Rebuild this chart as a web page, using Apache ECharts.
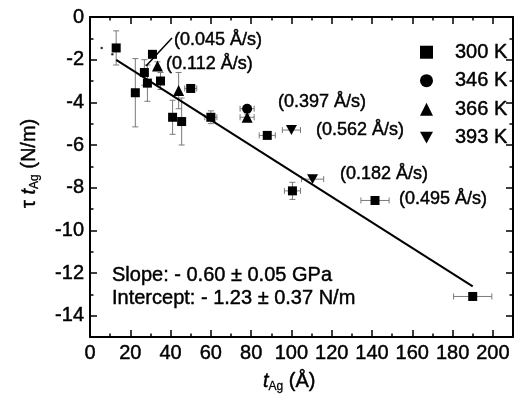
<!DOCTYPE html>
<html><head><meta charset="utf-8">
<script src="https://cdn.jsdelivr.net/npm/echarts@6/dist/echarts.min.js"></script>
<style>html,body{margin:0;padding:0;background:#fff}#c{width:516px;height:401px}</style>
</head><body><div id="c"></div>
<script>
// tick labels / tick positions
const xLabels = [0, 20, 40, 60, 80, 100, 120, 140, 160, 180, 200];
const xMinorTicks = [10, 30, 50, 70, 90, 110, 130, 150, 170, 190];
const yLabels = [0, -2, -4, -6, -8, -10, -12, -14];
const yMinorTicks = [-1, -3, -5, -7, -9, -11, -13];

// series values: [t_Ag (Å), tau*t_Ag (N/m), x error, y error]
const s300 = [
  [13, -1.45, 0, 0.8],
  [22.5, -3.55, 0, 1.6],
  [27, -2.6, 0, 0.6],
  [28.5, -3.1, 0, 0.85],
  [31, -1.75, 0, 0],
  [35, -3.0, 0, 0.4],
  [41, -4.7, 0, 0.8],
  [45.5, -4.9, 0, 1.1],
  [50, -3.35, 3, 0],
  [60, -4.7, 3, 0.3],
  [88, -5.55, 4, 0],
  [100.5, -8.15, 4, 0.4],
  [141.5, -8.6, 7, 0],
  [190, -13.1, 9.5, 0]
];
const s346 = [[78, -4.3, 3.5, 0]];
const s366 = [[33.5, -2.3, 0, 0.2], [44, -3.45, 0, 0.85], [78, -4.7, 3.5, 0.15]];
const s393 = [[100, -5.3, 4.5, 0], [110.5, -7.6, 5.5, 0]];
const fitLine = [[13, -2.01], [190, -12.63]];
const leaderLine = [[27.8, -2.3], [40.7, -0.98]];
const strayDots = [[5.8, -1.45], [11.1, -1.75]];
const seriesNames = ['300 K', '346 K', '366 K', '393 K'];
const rateTexts = ['(0.045 Å/s)', '(0.112 Å/s)', '(0.397 Å/s)', '(0.562 Å/s)', '(0.182 Å/s)', '(0.495 Å/s)'];
const fitTexts = ['Slope: - 0.60 ± 0.05 GPa', 'Intercept: - 1.23 ± 0.37 N/m'];

const FONT = '"Liberation Sans", Arial, sans-serif';
const BW = 0.45; // slight stroke to mimic the heavier reference text
const chart = echarts.init(document.getElementById('c'));

function errRender(params, api) {
  const x = api.value(0), y = api.value(1), ex = api.value(2), ey = api.value(3);
  const st = { stroke: '#7a7a7a', lineWidth: 1 };
  const ch = [];
  const cap = 3;
  if (ey > 0) {
    const a = api.coord([x, y + ey]), b = api.coord([x, y - ey]);
    ch.push({ type: 'line', shape: { x1: a[0], y1: a[1], x2: b[0], y2: b[1] }, style: st });
    ch.push({ type: 'line', shape: { x1: a[0] - cap, y1: a[1], x2: a[0] + cap, y2: a[1] }, style: st });
    ch.push({ type: 'line', shape: { x1: b[0] - cap, y1: b[1], x2: b[0] + cap, y2: b[1] }, style: st });
  }
  if (ex > 0) {
    const a = api.coord([x - ex, y]), b = api.coord([x + ex, y]);
    ch.push({ type: 'line', shape: { x1: a[0], y1: a[1], x2: b[0], y2: b[1] }, style: st });
    ch.push({ type: 'line', shape: { x1: a[0], y1: a[1] - cap, x2: a[0], y2: a[1] + cap }, style: st });
    ch.push({ type: 'line', shape: { x1: b[0], y1: b[1] - cap, x2: b[0], y2: b[1] + cap }, style: st });
  }
  return { type: 'group', children: ch };
}

const lineStyle = { color: '#000', width: 2 };
const labelStyle = { fontSize: 20, color: '#000', fontFamily: FONT, margin: 6, textBorderColor: '#000', textBorderWidth: BW };
function xAx(pos, ticks, len, labels, showLine) {
  return {
    type: 'value', position: pos, min: 0, max: 210,
    axisLine: { show: showLine, onZero: false, lineStyle },
    axisTick: { show: true, inside: true, length: len, customValues: ticks, lineStyle: { color: '#000', width: 1.5 } },
    axisLabel: labels ? Object.assign({ customValues: xLabels }, labelStyle) : { show: false },
    splitLine: { show: false }
  };
}
function yAx(pos, ticks, len, labels, showLine) {
  return {
    type: 'value', position: pos, min: -15, max: 0,
    axisLine: { show: showLine, onZero: false, lineStyle },
    axisTick: { show: true, inside: true, length: len, customValues: ticks, lineStyle: { color: '#000', width: 1.5 } },
    axisLabel: labels ? Object.assign({ customValues: yLabels }, labelStyle) : { show: false },
    splitLine: { show: false }
  };
}

const downTri = 'path://M0,0L10,0L5,9Z';
const markers = [
  { name: seriesNames[0], data: s300, symbol: 'rect', size: 9 },
  { name: seriesNames[1], data: s346, symbol: 'circle', size: 10 },
  { name: seriesNames[2], data: s366, symbol: 'triangle', size: 11 },
  { name: seriesNames[3], data: s393, symbol: downTri, size: 11 }
];

const series = [];
markers.forEach(m => {
  series.push({ type: 'custom', renderItem: errRender, data: m.data, z: 1, silent: true,
    encode: { x: 0, y: 1 } });
});
markers.forEach(m => {
  series.push({ type: 'scatter', name: m.name, data: m.data.map(d => [d[0], d[1]]),
    symbol: m.symbol, symbolSize: m.size, symbolKeepAspect: true,
    itemStyle: { color: '#000', opacity: 1 }, z: 3 });
});
series.push({ type: 'line', data: fitLine, showSymbol: false, lineStyle: { color: '#000', width: 2 }, z: 2 });
series.push({ type: 'line', data: leaderLine, showSymbol: false, lineStyle: { color: '#000', width: 1.5 }, z: 2 });
series.push({ type: 'scatter', data: strayDots, symbol: 'circle', symbolSize: 2.5, itemStyle: { color: '#000' }, z: 2 });

const txt = (x, y, s, fs) => ({ type: 'text', x, y, style: { text: s, font: fs + 'px ' + FONT, fill: '#000', stroke: '#000', lineWidth: BW, verticalAlign: 'middle' } });
const rich = {
  i: { fontSize: 20, fontStyle: 'italic', fontFamily: FONT, fill: '#000', stroke: '#000', lineWidth: BW },
  s: { fontSize: 12, fontFamily: FONT, fill: '#000', verticalAlign: 'bottom', padding: [12, 0, 0, 0], stroke: '#000', lineWidth: BW * 0.6 },
  n: { fontSize: 20, fontFamily: FONT, fill: '#000', stroke: '#000', lineWidth: BW }
};

chart.setOption({
  animation: false,
  grid: { left: 90, top: 17, right: 3, bottom: 64, outerBoundsMode: 'none' },
  xAxis: [xAx('bottom', xMinorTicks, 3.5, true, true), xAx('top', xMinorTicks, 3.5, false, true),
          xAx('top', xLabels, 7, false, false), xAx('bottom', xLabels, 7, false, false)],
  yAxis: [yAx('left', yMinorTicks, 3.5, true, true), yAx('right', yMinorTicks, 3.5, false, true),
          yAx('left', yLabels, 7, false, false), yAx('right', yLabels, 7, false, false)],
  legend: {
    data: [
      { name: seriesNames[0], icon: 'rect' },
      { name: seriesNames[1], icon: 'circle' },
      { name: seriesNames[2], icon: 'triangle' },
      { name: seriesNames[3], icon: downTri }
    ],
    orient: 'vertical', left: 415, top: 37, itemWidth: 13, itemHeight: 13, itemGap: 8,
    textStyle: { fontSize: 20, color: '#000', fontFamily: FONT, padding: [0, 0, 0, 17], textBorderColor: '#000', textBorderWidth: BW },
    selectedMode: false
  },
  series,
  graphic: [
    txt(174, 40, rateTexts[0], 18),
    txt(166, 64, rateTexts[1], 18),
    txt(278, 102, rateTexts[2], 18),
    txt(316, 130, rateTexts[3], 18),
    txt(340, 174, rateTexts[4], 18),
    txt(399, 199, rateTexts[5], 18),
    txt(112, 275, fitTexts[0], 20),
    txt(112, 298, fitTexts[1], 20),
    { type: 'text', x: 263, y: 381, style: {
        text: '{i|t}{s|Ag} {n|(Å)}', font: '20px ' + FONT, fill: '#000', verticalAlign: 'middle', rich } },
    { type: 'text', x: 29, y: 208, rotation: Math.PI / 2, style: {
        text: '{n|τ} {i|t}{s|Ag} {n|(N/m)}', font: '20px ' + FONT, fill: '#000', verticalAlign: 'middle', rich } }
  ]
});
</script></body></html>
